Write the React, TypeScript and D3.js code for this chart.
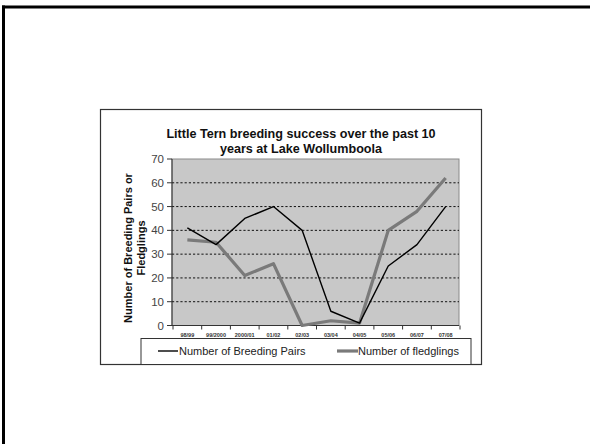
import React from "react";
import * as d3 from "d3";

const categories = ["98/99", "99/2000", "2000/01", "01/02", "02/03", "03/04", "04/05", "05/06", "06/07", "07/08"];
const breedingPairs = [41, 34, 45, 50, 40, 6, 1, 25, 34, 50];
const fledglings = [36, 35, 21, 26, 0, 2, 1, 40, 48, 62];
const yTicks = [0, 10, 20, 30, 40, 50, 60, 70];
const titleLines = ["Little Tern breeding success over the past 10", "years at Lake Wollumboola"];
const yTitleLines = ["Number of Breeding Pairs or", "Fledglings"];
const seriesNames = ["Number of Breeding Pairs", "Number of fledglings"];

const FONT = "'Liberation Sans', Arial, sans-serif";

export default function App() {
  const W = 590, H = 444;
  const plot = { l: 172, r: 459, t: 159, b: 325.5 };
  const x = d3.scaleBand<string>().domain(categories).range([plot.l + 1, plot.r + 1]);
  const y = d3.scaleLinear().domain([0, 70]).range([plot.b, plot.t]);
  const cx = (c: string) => (x(c) as number) + x.bandwidth() / 2;

  const line = d3
    .line<number>()
    .x((_, i) => cx(categories[i]))
    .y((d) => y(d));

  const boundaries = categories.map((c) => x(c) as number).concat([(x(categories[categories.length - 1]) as number) + x.bandwidth()]);

  return (
    <svg width={W} height={H} style={{ position: "absolute", left: 0, top: 0, background: "#fff" }}>
      {/* slide border (top + left) */}
      <line x1={2} y1={7} x2={W} y2={7} stroke="#000" strokeWidth={3} />
      <line x1={3.5} y1={5.5} x2={3.5} y2={H} stroke="#000" strokeWidth={3} />

      {/* chart box */}
      <rect x={100.5} y={109.5} width={381} height={255} fill="#fff" stroke="#333" strokeWidth={1.2} />

      {/* title */}
      {titleLines.map((t, i) => (
        <text key={i} x={301} y={137.5 + i * 15.5} textAnchor="middle" fontFamily={FONT} fontWeight="bold" fontSize={12.6} fill="#111">
          {t}
        </text>
      ))}

      {/* plot area */}
      <rect x={plot.l} y={plot.t} width={plot.r - plot.l} height={plot.b - plot.t} fill="#c8c8c8" stroke="#8a8a8a" strokeWidth={1} />

      {/* gridlines */}
      {yTicks.filter((v) => v > 0 && v < 70).map((v) => (
        <line key={v} x1={plot.l} x2={plot.r} y1={y(v)} y2={y(v)} stroke="#111" strokeWidth={1} strokeDasharray="2.2,2" />
      ))}

      {/* y axis */}
      <line x1={plot.l} x2={plot.l} y1={plot.t} y2={plot.b} stroke="#333" strokeWidth={1} />
      {yTicks.map((v) => (
        <g key={v}>
          <line x1={plot.l - 5} x2={plot.l} y1={y(v)} y2={y(v)} stroke="#333" strokeWidth={1} />
          <text x={plot.l - 8} y={y(v)} dy="0.36em" textAnchor="end" fontFamily={FONT} fontSize={11.5} fill="#444">
            {v}
          </text>
        </g>
      ))}

      {/* x axis */}
      <line x1={plot.l} x2={plot.r} y1={plot.b} y2={plot.b} stroke="#333" strokeWidth={1} />
      {boundaries.map((bx, i) => (
        <line key={i} x1={bx} x2={bx} y1={plot.b} y2={plot.b + 4} stroke="#333" strokeWidth={1} />
      ))}
      {categories.map((c) => (
        <text key={c} x={cx(c)} y={plot.b + 11} textAnchor="middle" fontFamily={FONT} fontWeight="bold" fontSize={5.5} fill="#333">
          {c}
        </text>
      ))}

      {/* y title */}
      {yTitleLines.map((t, i) => (
        <text
          key={i}
          transform={`translate(${132 + i * 12.5},${248}) rotate(-90)`}
          textAnchor="middle"
          fontFamily={FONT}
          fontWeight="bold"
          fontSize={11}
          fill="#111"
        >
          {t}
        </text>
      ))}

      {/* series */}
      <path d={line(fledglings) as string} fill="none" stroke="#7a7a7a" strokeWidth={3.2} strokeLinejoin="round" />
      <path d={line(breedingPairs) as string} fill="none" stroke="#000" strokeWidth={1.4} strokeLinejoin="round" />

      {/* legend */}
      <rect x={141} y={338.5} width={330} height={26} fill="#fff" stroke="#333" strokeWidth={1} />
      <line x1={158} x2={178} y1={351} y2={351} stroke="#000" strokeWidth={1.4} />
      <text x={179} y={351} dy="0.36em" fontFamily={FONT} fontSize={11} fill="#222">
        {seriesNames[0]}
      </text>
      <line x1={337} x2={358} y1={351} y2={351} stroke="#7a7a7a" strokeWidth={3.2} />
      <text x={358} y={351} dy="0.36em" fontFamily={FONT} fontSize={11} fill="#222">
        {seriesNames[1]}
      </text>
    </svg>
  );
}
